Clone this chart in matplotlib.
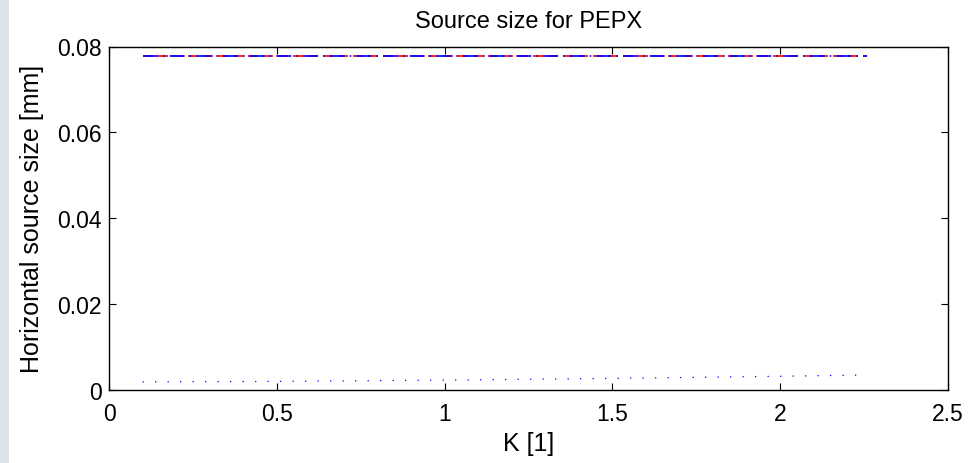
import matplotlib
matplotlib.use('Agg')
import matplotlib.pyplot as plt
from matplotlib.patches import Rectangle

# data
K = [0.1, 0.5, 1.0, 1.5, 2.0, 2.26]
size_red = [0.0779, 0.0779, 0.0779, 0.0779, 0.0779, 0.0779]
size_blue = [0.0779, 0.0779, 0.0779, 0.0779, 0.0779, 0.0779]
size_dot = [0.0019, 0.0020, 0.0023, 0.0027, 0.0032, 0.0035]

plt.rcParams['font.family'] = ['Liberation Sans', 'DejaVu Sans']

fig = plt.figure(figsize=(9.68, 4.64), dpi=100)
# light strip on the left edge of the screenshot
fig.patches.append(Rectangle((0, 0), 9 / 968, 1, transform=fig.transFigure,
                             facecolor='#dde3ea', edgecolor='none', zorder=0))
ax = fig.add_axes([109 / 968, 1 - 391 / 464, 839 / 968, 343.5 / 464])

ax.plot(K, size_red, color='red', linestyle=(0, (6, 3)), linewidth=1.2)
ax.plot(K, size_blue, color='blue', linestyle=(0, (9, 3, 1, 3)), linewidth=1.2)
ax.plot(K, size_dot, color='blue', linestyle=(0, (1, 9)), linewidth=0.9)

ax.set_xlim(0, 2.5)
ax.set_ylim(0, 0.08)
ax.set_xticks([0, 0.5, 1, 1.5, 2, 2.5])
ax.set_xticklabels(['0', '0.5', '1', '1.5', '2', '2.5'])
ax.set_yticks([0, 0.02, 0.04, 0.06, 0.08])
ax.set_yticklabels(['0', '0.02', '0.04', '0.06', '0.08'])
ax.tick_params(direction='in', length=5, width=0.8, top=True, right=True,
               labelsize=16.5)
ax.tick_params(axis='x', pad=9)
ax.tick_params(axis='y', pad=5)
for s in ax.spines.values():
    s.set_linewidth(1.0)

ax.set_title('Source size for PEPX', fontsize=17, pad=14)
ax.set_xlabel('K [1]', fontsize=18, labelpad=4)
ax.set_ylabel('Horizontal source size [mm]', fontsize=18, labelpad=10)

fig.savefig('out.png', dpi=100)
